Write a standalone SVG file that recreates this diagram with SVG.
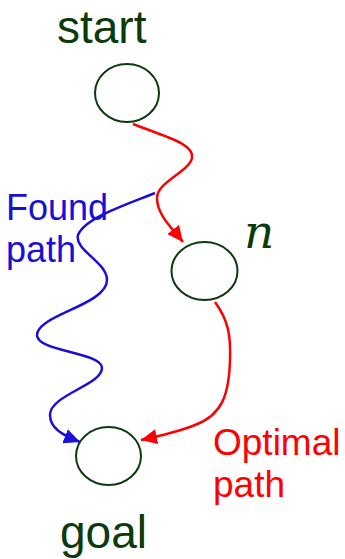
<svg xmlns="http://www.w3.org/2000/svg" width="345" height="559" viewBox="0 0 345 559">
<style>
.node{fill:none;stroke:#0b3a0b;stroke-width:2}
.lbl{font-family:"Liberation Sans",Arial,sans-serif;font-size:46px;fill:#0b3a0b}
.red{fill:none;stroke:#ff0000;stroke-width:2.5}
.blue{fill:none;stroke:#1a0fd6;stroke-width:2.5}
.rt{font-family:"Liberation Sans",Arial,sans-serif;font-size:37px;fill:#ff0000}
.bt{font-family:"Liberation Sans",Arial,sans-serif;font-size:36px;fill:#1a0fd6}
</style>
<defs>
<marker id="ar" markerUnits="userSpaceOnUse" markerWidth="16" markerHeight="15" viewBox="0 0 16 15" refX="16" refY="7.5" orient="auto"><path d="M0,0 L16,7.5 L0,15 z" fill="#ff0000"/></marker>
<marker id="ab" markerUnits="userSpaceOnUse" markerWidth="16" markerHeight="15" viewBox="0 0 16 15" refX="16" refY="7.5" orient="auto"><path d="M0,0 L16,7.5 L0,15 z" fill="#1a0fd6"/></marker>
</defs>
<g id="start">
<ellipse class="node" cx="127" cy="93" rx="32" ry="29"/>
<text class="lbl" x="57" y="43">start</text>
</g>
<g id="n">
<ellipse class="node" cx="204.5" cy="271" rx="33" ry="29"/>
<text x="244" y="248" font-family="'DejaVu Serif','Liberation Serif',serif" font-style="italic" font-size="47" fill="#0b3a0b">n</text>
</g>
<g id="goal">
<ellipse class="node" cx="108.5" cy="456" rx="32.5" ry="29"/>
<text class="lbl" x="60" y="548">goal</text>
</g>
<g id="connectors">
<path class="red" d="M133,124 C160,135 195,143 192,158 C189,172 157,182 157,198 C157,215 172,228 183,242" marker-end="url(#ar)"/>
<path class="blue" d="M155,193 C125,205 85,218 78,235 C74,250 107,262 107,280 C107,305 37,315 37,335 C37,352 102,352 102,368 C102,385 50,395 50,415 C50,428 62,435 80,442" marker-end="url(#ab)"/>
<path class="red" d="M215,302 C228,320 231,335 230,360 C229,395 222,415 195,425 C180,431 160,436 141,440" marker-end="url(#ar)"/>
</g>
<g id="labels">
<text class="bt" x="6" y="220">Found</text>
<text class="bt" x="6" y="262">path</text>
<text class="rt" x="213" y="455">Optimal</text>
<text class="rt" x="213" y="497">path</text>
</g>
</svg>
